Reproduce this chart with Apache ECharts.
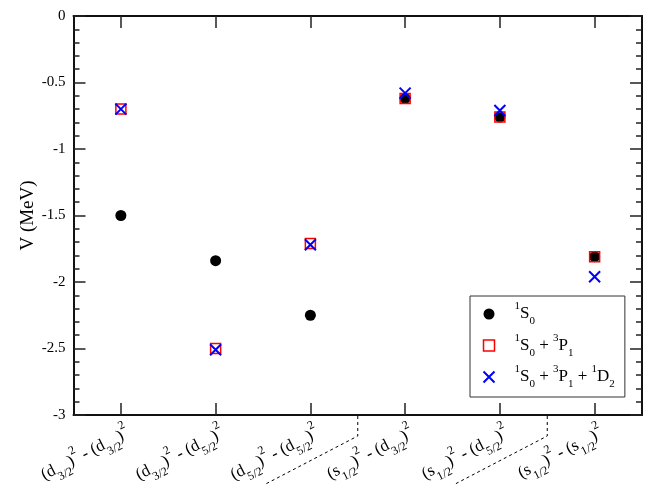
<!DOCTYPE html>
<html>
<head>
<meta charset="utf-8">
<script src="https://cdn.jsdelivr.net/npm/echarts@6/dist/echarts.min.js"></script>
<style>
html,body{margin:0;padding:0;background:#fff;}
#c{width:649px;height:485px;}
</style>
</head>
<body>
<div id="c"></div>
<script>
// ---- data ----
var categories = ['d3/2-d3/2', 'd3/2-d5/2', 'd5/2-d5/2', 's1/2-d3/2', 's1/2-d5/2', 's1/2-s1/2'];
var categoryParts = [
  ['d', '3/2', 'd', '3/2'],
  ['d', '3/2', 'd', '5/2'],
  ['d', '5/2', 'd', '5/2'],
  ['s', '1/2', 'd', '3/2'],
  ['s', '1/2', 'd', '5/2'],
  ['s', '1/2', 's', '1/2']
];
var seriesS0 = [-1.50, -1.84, -2.25, -0.62, -0.76, -1.81];
var seriesS0P1 = [-0.70, -2.50, -1.71, -0.62, -0.76, -1.81];
var seriesS0P1D2 = [-0.70, -2.51, -1.72, -0.58, -0.71, -1.96];
var yTicks = { min: -3, max: 0, interval: 0.5 };
var separatorsAfter = [2, 4]; // dashed separators between category index i and i+1

var FONT = "'Liberation Serif', 'Times New Roman', serif";
var xPath = 'path://M0,0L10,10M0,10L10,0';

var chart = echarts.init(document.getElementById('c'), null, { renderer: 'canvas' });

function catLabel(value, index) {
  var p = categoryParts[index];
  return '{n|(' + p[0] + '}{sub|' + p[1] + '}{n|)}{sup|2}{n| - (' + p[2] + '}{sub|' + p[3] + '}{n|)}{sup|2}';
}

var richX = {
  n: { fontFamily: FONT, fontSize: 17, color: '#000', lineHeight: 30, verticalAlign: 'middle' },
  sub: { fontFamily: FONT, fontSize: 12, color: '#000', lineHeight: 12, verticalAlign: 'bottom' },
  sup: { fontFamily: FONT, fontSize: 12, color: '#000', lineHeight: 12, verticalAlign: 'top' }
};

var legendNames = {
  S0: '{sup|1}{n|S}{sub|0}',
  S0P1: '{sup|1}{n|S}{sub|0}{n| + }{sup|3}{n|P}{sub|1}',
  S0P1D2: '{sup|1}{n|S}{sub|0}{n| + }{sup|3}{n|P}{sub|1}{n| + }{sup|1}{n|D}{sub|2}'
};
var richL = {
  n: { fontFamily: FONT, fontSize: 17, color: '#000', lineHeight: 26, verticalAlign: 'middle' },
  sub: { fontFamily: FONT, fontSize: 11, color: '#000', lineHeight: 11, verticalAlign: 'bottom' },
  sup: { fontFamily: FONT, fontSize: 11, color: '#000', lineHeight: 11, verticalAlign: 'top' }
};

var axisLineStyle = { color: '#111', width: 2 };
var tickStyle = { color: '#222', width: 1.5 };

function xAxisCfg(pos, showLabel) {
  return {
    type: 'category',
    data: categories,
    position: pos,
    boundaryGap: true,
    axisLine: { show: true, onZero: false, lineStyle: axisLineStyle },
    axisTick: { show: true, inside: true, alignWithLabel: true, length: 12, lineStyle: tickStyle },
    axisLabel: showLabel ? {
      show: true, rotate: 27, margin: 3, interval: 0, hideOverlap: false,
      padding: [32, 0, 0, 0],
      formatter: catLabel, rich: richX
    } : { show: false },
    splitLine: { show: false }
  };
}
function yAxisCfg(pos, showLabel) {
  return {
    type: 'value',
    position: pos,
    min: yTicks.min, max: yTicks.max, interval: yTicks.interval,
    axisLine: { show: true, onZero: false, lineStyle: axisLineStyle },
    axisTick: { show: true, inside: true, length: 12, lineStyle: tickStyle },
    minorTick: { show: true, splitNumber: 5, length: 6, lineStyle: tickStyle },
    splitLine: { show: false },
    minorSplitLine: { show: false },
    axisLabel: showLabel ? { show: true, fontFamily: FONT, fontSize: 15, color: '#000', margin: 8 } : { show: false },
    name: showLabel ? 'V (MeV)' : '',
    nameLocation: 'middle',
    nameGap: 36,
    nameMoveOverlap: false,
    nameTextStyle: { fontFamily: FONT, fontSize: 19, color: '#000' }
  };
}

var option = {
  backgroundColor: '#fff',
  animation: false,
  grid: { left: 73.5, right: 7, top: 16, bottom: 70, containLabel: false, outerBoundsMode: 'none' },
  xAxis: [xAxisCfg('bottom', true), xAxisCfg('top', false)],
  yAxis: [yAxisCfg('left', true), yAxisCfg('right', false)],
  legend: {
    orient: 'vertical',
    left: 470, top: 296,
    padding: [5, 10, 7, 12.5],
    itemGap: 5.5,
    itemWidth: 11, itemHeight: 11,
    borderColor: '#333', borderWidth: 1,
    backgroundColor: '#fff',
    selectedMode: false,
    textStyle: { rich: richL, padding: [0, 0, 0, 15] },
    formatter: function (name) { return legendNames[name]; },
    data: [
      { name: 'S0', icon: 'circle', itemStyle: { color: '#000', borderWidth: 0 } },
      { name: 'S0P1', icon: 'rect', itemStyle: { color: 'rgba(0,0,0,0)', borderColor: '#ff0000', borderWidth: 1.5 } },
      { name: 'S0P1D2', icon: xPath, itemStyle: { color: 'rgba(0,0,0,0)', borderColor: '#0000ff', borderWidth: 2 } }
    ]
  },
  series: [
    {
      name: 'S0', type: 'scatter', xAxisIndex: 0, yAxisIndex: 0,
      symbol: 'circle', symbolSize: 11,
      itemStyle: { color: '#000', opacity: 1 },
      data: seriesS0, z: 2
    },
    {
      name: 'S0P1', type: 'scatter', xAxisIndex: 0, yAxisIndex: 0,
      symbol: 'rect', symbolSize: 10,
      itemStyle: { color: 'rgba(0,0,0,0)', borderColor: '#ff0000', borderWidth: 1.5, opacity: 1 },
      data: seriesS0P1, z: 3
    },
    {
      name: 'S0P1D2', type: 'scatter', xAxisIndex: 0, yAxisIndex: 0,
      symbol: xPath, symbolSize: 11,
      itemStyle: { color: 'rgba(0,0,0,0)', borderColor: '#0000ff', borderWidth: 2, opacity: 1 },
      data: seriesS0P1D2, z: 4
    }
  ]
};
chart.setOption(option);

// dashed separators below the axis, placed via the axis scale
var yBottom = chart.convertToPixel({ yAxisIndex: 0 }, yTicks.min);
var graphics = separatorsAfter.map(function (i) {
  var xa = chart.convertToPixel({ xAxisIndex: 0 }, i);
  var xb = chart.convertToPixel({ xAxisIndex: 0 }, i + 1);
  var xm = (xa + xb) / 2;
  return {
    type: 'polyline',
    silent: true,
    shape: { points: [[xm, yBottom + 1], [xm, yBottom + 21], [xm - 94, yBottom + 70]] },
    style: { stroke: '#000', lineWidth: 1, lineDash: [3, 3], fill: null }
  };
});
chart.setOption({ graphic: graphics });
</script>
</body>
</html>
